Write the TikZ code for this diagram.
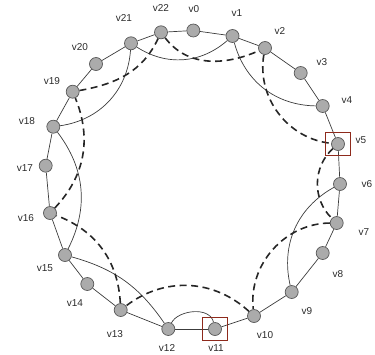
\documentclass[tikz,border=0pt]{standalone}
\usepackage{fontspec}
\setmainfont{Liberation Sans}
\usetikzlibrary{backgrounds}
\definecolor{vfill}{HTML}{ABABAB}
\definecolor{vline}{HTML}{5A5A5A}
\definecolor{edgegray}{HTML}{3C3C3C}
\definecolor{boxred}{HTML}{8E2A1C}
\definecolor{labgray}{HTML}{2A2A2A}
\tikzset{
  vert/.style={circle, draw=vline, fill=vfill, line width=0.7pt, minimum size=13pt, inner sep=0pt},
  lab/.style={font=\fontsize{10}{11}\selectfont, text=labgray, inner sep=0pt},
  ring/.style={draw=edgegray, line width=0.7pt},
  solidchord/.style={draw=edgegray, line width=0.7pt},
  dashchord/.style={draw=black!85, line width=1.6pt, dash pattern=on 7pt off 4.5pt},
  markbox/.style={draw=boxred, line width=0.9pt, minimum width=25pt, minimum height=23pt, inner sep=0pt}
}
\begin{document}
\begin{tikzpicture}[x=1pt,y=1pt]
\useasboundingbox (0,0) rectangle (375,-354);
% vertices of the ring
\foreach \n/\x/\y in {0/193.3/30.5, 1/232.5/36, 2/265/48, 3/300.7/73, 4/322.7/106,
  5/338/144, 6/340/184, 7/336.7/223, 8/322.7/253, 9/291.7/292, 10/254/316,
  11/215/329, 12/168.3/329, 13/120.7/310, 14/87.3/284, 15/65/255, 16/50/213,
  17/45.7/165.7, 18/53.3/126.7, 19/72.7/91.7, 20/96/64, 21/131/43.3, 22/161/32.3}
  \node[vert] (v\n) at (\x,-\y) {};
% labels
\foreach \n/\x/\y in {0/194/9, 1/237/13, 2/280/31, 3/322/62, 4/347/100,
  5/361/140, 6/367/184, 7/364/232, 8/338/274, 9/307/311, 10/265/335,
  11/216/348, 12/167/348, 13/115/334, 14/75/303, 15/45/268, 16/26/218,
  17/25/168, 18/27/121, 19/52/81, 20/80/47, 21/124/18, 22/161/8}
  \node[lab] (l\n) at (\x,-\y) {v\n};
% highlighted vertices
\node[markbox] (b5) at (v5) {};
\node[markbox] (b11) at (v11) {};
\begin{pgfonlayer}{background}
% ring edges
\foreach \a/\b in {0/1,1/2,2/3,3/4,4/5,5/6,6/7,7/8,8/9,9/10,10/11,11/12,12/13,
  13/14,14/15,15/16,16/17,17/18,18/19,19/20,20/21,21/22,22/0}
  \draw[ring] (v\a) -- (v\b);
% solid chords
\draw[solidchord] (v21) to[bend right=37] (v1);
\draw[solidchord] (v1) to[bend right=37] (v4);
\draw[solidchord] (v6) to[bend right=37] (v9);
\draw[solidchord] (v12) .. controls (178,-310) and (210,-306) .. (v11);
\draw[solidchord] (v12) to[bend right=20] (v15);
\draw[solidchord] (v15) to[bend right=32] (v18);
\draw[solidchord] (v18) to[bend right=39] (v21);
% dashed chords
\draw[dashchord] (v22) to[out=-53,in=204] (v2);
\draw[dashchord] (v2) to[bend right=47] (v5);
\draw[dashchord] (v5) to[bend right=47] (v7);
\draw[dashchord] (v7) to[bend right=48] (v10);
\draw[dashchord] (v10) to[bend right=40] (v13);
\draw[dashchord] (v13) to[bend right=33] (v16);
\draw[dashchord] (v16) to[bend right=33] (v19);
\draw[dashchord] (v19) to[out=10,in=245] (v22);
\end{pgfonlayer}
\end{tikzpicture}
\end{document}
